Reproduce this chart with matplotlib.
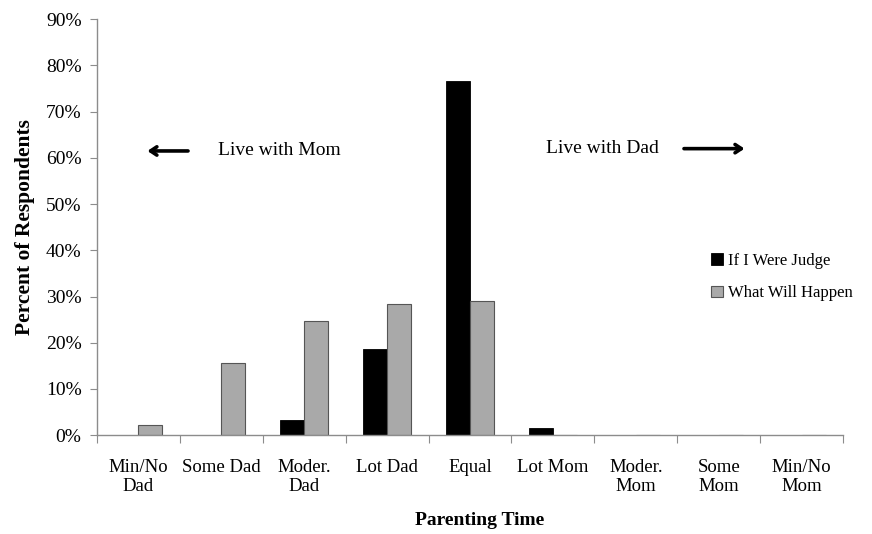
import numpy as np
import matplotlib
matplotlib.use("Agg")
import matplotlib.pyplot as plt
from matplotlib.ticker import PercentFormatter

plt.rcParams['font.family'] = ['Liberation Serif', 'DejaVu Serif']

categories = ["Min/No\nDad", "Some Dad", "Moder.\nDad", "Lot Dad", "Equal",
              "Lot Mom", "Moder.\nMom", "Some\nMom", "Min/No\nMom"]
judge = [0.0, 0.0, 3.2, 18.6, 76.7, 1.5, 0.0, 0.0, 0.0]
happen = [2.2, 15.7, 24.7, 28.3, 29.0, 0.0, 0.0, 0.0, 0.0]
yticks = np.arange(0, 91, 10)

fig = plt.figure(figsize=(8.72, 5.34), dpi=100)
ax = fig.add_axes([0.111, 0.185, 0.856, 0.779])

x = np.arange(len(categories))
w = 0.29
ax.bar(x - w / 2, judge, w, color="black", edgecolor="black", lw=0.6,
       label="If I Were Judge")
ax.bar(x + w / 2, happen, w, color="#a9a9a9", edgecolor="#555555", lw=0.8,
       label="What Will Happen")

axcol = "#8c8c8c"
ax.set_xlim(-0.5, len(categories) - 0.5)
ax.set_ylim(0, 90)
ax.set_yticks(yticks)
ax.yaxis.set_major_formatter(PercentFormatter(decimals=0))
ax.set_xticks(np.arange(-0.5, len(categories)), minor=False)
ax.set_xticklabels([])
ax.set_xticks(x, minor=True)
ax.set_xticklabels(categories, minor=True, fontsize=13.5, linespacing=1.2)
ax.tick_params(axis='x', which='major', length=6, color=axcol, direction='out')
ax.tick_params(axis='x', which='minor', length=0, pad=17)
ax.tick_params(axis='y', length=5, color=axcol, labelsize=14, pad=6)
for s in ["top", "right"]:
    ax.spines[s].set_visible(False)
for s in ["left", "bottom"]:
    ax.spines[s].set_color(axcol)
    ax.spines[s].set_linewidth(1.0)

ax.set_ylabel("Percent of Respondents", fontsize=15.5, fontweight="bold", labelpad=8)
ax.set_xlabel("Parenting Time", fontsize=14, fontweight="bold")
ax.xaxis.set_label_coords(0.513, -0.185)

arrow = dict(arrowstyle="->, head_length=0.45, head_width=0.3", color="black",
             lw=2.6, shrinkA=0, shrinkB=0)
ax.annotate("", xy=(0.11, 61.5), xytext=(0.6, 61.5), arrowprops=arrow)
ax.text(0.96, 61.5, "Live with Mom", fontsize=14, va="center", ha="left")
ax.text(4.92, 62.0, "Live with Dad", fontsize=14, va="center", ha="left")
ax.annotate("", xy=(7.31, 62.0), xytext=(6.58, 62.0), arrowprops=arrow)

ax.legend(loc="upper left", bbox_to_anchor=(0.803, 0.475), frameon=False,
          fontsize=12, handlelength=0.7, handleheight=0.7, handletextpad=0.3,
          labelspacing=1.0)

plt.savefig("out.png", dpi=100)
plt.close()
